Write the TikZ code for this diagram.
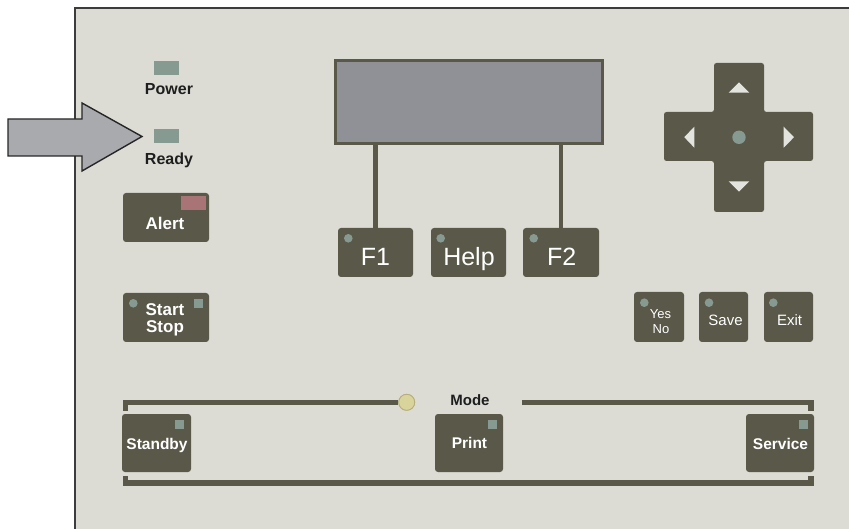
\documentclass[tikz,border=0pt]{standalone}
\usepackage{fontspec}
\setmainfont{Liberation Sans}
\definecolor{panelcol}{HTML}{DCDCD5}
\definecolor{bordercol}{HTML}{3C3C3C}
\definecolor{btncol}{HTML}{5A5848}
\definecolor{ledcol}{HTML}{879A92}
\definecolor{redled}{HTML}{A87476}
\definecolor{dispcol}{HTML}{909196}
\definecolor{arrowcol}{HTML}{A9AAAE}
\definecolor{knobfill}{HTML}{D9D49C}
\definecolor{knobdraw}{HTML}{B5AE7A}
\definecolor{txtdark}{HTML}{1E1E1E}
\definecolor{tricol}{HTML}{E4E4DE}
\begin{document}
\begin{tikzpicture}[x=1pt,y=-1pt,
  btn/.style={fill=btncol, rounded corners=3pt, inner sep=0pt, draw=none},
  ledsq/.style={fill=ledcol, inner sep=0pt, minimum width=9, minimum height=9},
  ledbar/.style={fill=ledcol, inner sep=0pt, minimum width=25, minimum height=13.5},
  ledrd/.style={fill=ledcol, circle, inner sep=0pt, minimum size=8.6},
  wbold/.style={text=white, inner sep=0pt, anchor=base, font=\fontsize{17}{18}\selectfont\bfseries},
  wsmall/.style={text=white, inner sep=0pt, anchor=base, font=\fontsize{15.5}{17}\selectfont\bfseries},
  wbig/.style={text=white, inner sep=0pt, anchor=base, font=\fontsize{25}{27}\selectfont},
  wreg/.style={text=white, inner sep=0pt, anchor=base, font=\fontsize{15}{16}\selectfont},
  dlabel/.style={text=txtdark, inner sep=0pt, anchor=base, font=\fontsize{16}{17}\selectfont\bfseries},
  wire/.style={draw=btncol, line width=4.5},
  rail/.style={draw=btncol, line width=5.5},
]
\useasboundingbox (0,0) rectangle (849,529);
% panel
\fill[panelcol] (74,7) rectangle (849,529);
\draw[bordercol, line width=1.6] (74.8,529) -- (74.8,7.8) -- (849,7.8);

% pointer arrow
\draw[fill=arrowcol, draw=black!85, line width=1.4, line join=miter]
  (8,119) -- (82,119) -- (82,103) -- (142,136.5) -- (82,171) -- (82,156) -- (8,156) -- cycle;

% status LEDs
\node[ledbar] (pled) at (166.5,68) {};
\node[dlabel] (ptxt) at (169,95) {Power};
\node[ledbar] (rled) at (166.5,136) {};
\node[dlabel] (rtxt) at (169,165) {Ready};

% Alert
\node[btn, minimum width=86, minimum height=49] (alert) at (166,217.5) {};
\node[fill=redled, inner sep=0pt, minimum width=25, minimum height=14] (aled) at (193.5,203) {};
\node[wbold] (atxt) at (165,229.3) {Alert};

% Start/Stop
\node[btn, minimum width=86, minimum height=49] (start) at (166,317.5) {};
\node[ledrd] (sled1) at (133.3,303.3) {};
\node[ledsq] (sled2) at (198.5,303.5) {};
\node[wbold] (stxt1) at (165,316) {Start};
\node[wbold] (stxt2) at (165,333) {Stop};

% display
\node[fill=dispcol, draw=btncol, line width=3, inner sep=0pt, minimum width=267, minimum height=83] (disp) at (468.5,102.5) {};

% F keys
\node[btn, minimum width=75, minimum height=49] (f1) at (375.5,252.5) {};
\node[btn, minimum width=75, minimum height=49] (help) at (468.5,252.5) {};
\node[btn, minimum width=76, minimum height=49] (f2) at (561,252.5) {};
\node[ledrd] (f1led) at (348.3,238.3) {};
\node[ledrd] (hled) at (440.7,238.3) {};
\node[ledrd] (f2led) at (533.7,238.3) {};
\node[wbig] (f1txt) at (375.5,266) {F1};
\node[wbig] (htxt) at (469,266) {Help};
\node[wbig] (f2txt) at (561.7,266) {F2};
\draw[wire] (disp.south -| f1.north) -- (f1.north);
\draw[wire] (disp.south -| f2.north) -- (f2.north);

% D-pad
\fill[btncol, rounded corners=2.5pt]
  (714,63) -- (764,63) -- (764,112) -- (813,112) -- (813,161) -- (764,161) -- (764,212)
  -- (714,212) -- (714,161) -- (664,161) -- (664,112) -- (714,112) -- cycle;
\fill[tricol] (739,82.3) -- (749.3,92.7) -- (728.7,92.7) -- cycle;
\fill[tricol] (739,191.7) -- (749.3,181.3) -- (728.7,181.3) -- cycle;
\fill[tricol] (684.3,137.2) -- (694.3,126.7) -- (694.3,147.7) -- cycle;
\fill[tricol] (794,137.2) -- (783.7,126.7) -- (783.7,147.7) -- cycle;
\node[ledrd, minimum size=13.4] (dcenter) at (739,137.3) {};

% Yes/No, Save, Exit
\node[btn, minimum width=50, minimum height=50] (yes) at (659,317) {};
\node[btn, minimum width=49, minimum height=50] (save) at (723.5,317) {};
\node[btn, minimum width=49, minimum height=50] (exit) at (788.5,317) {};
\node[ledrd] (yled) at (644.3,302.7) {};
\node[ledrd] (svled) at (709,302.7) {};
\node[ledrd] (exled) at (773.3,302.7) {};
\node[wreg, font=\fontsize{13}{14}\selectfont] (ytxt) at (660.5,318.3) {Yes};
\node[wreg, font=\fontsize{13}{14}\selectfont] (ntxt) at (661,333.3) {No};
\node[wreg] (svtxt) at (725.5,325.7) {Save};
\node[wreg] (extxt) at (789.5,325.7) {Exit};

% Mode section
\node[btn, minimum width=69, minimum height=58] (stby) at (156.5,443) {};
\node[btn, minimum width=68, minimum height=58] (print) at (469,443) {};
\node[btn, minimum width=68, minimum height=58] (serv) at (780,443) {};
\node[ledsq] (stled) at (179.5,424.5) {};
\node[ledsq] (prled) at (492.5,424.5) {};
\node[ledsq] (svcled) at (803.5,424.5) {};
\node[wsmall] (sttxt) at (157,449) {Standby};
\node[wsmall] (prtxt) at (469.5,448.5) {Print};
\node[wsmall] (svctxt) at (780.5,449) {Service};
\node[dlabel, font=\fontsize{15}{16}\selectfont\bfseries] (mode) at (470,406) {Mode};

\coordinate (tl) at (125.5,410.5);
\coordinate (tr0) at (522,402.5);
\coordinate (tr) at (811,410.5);
\coordinate (bl) at (125.5,476);
\coordinate (br) at (811,476);
\node[circle, fill=knobfill, draw=knobdraw, line width=0.8, inner sep=0pt, minimum size=16] (knob) at (406.7,402.3) {};
\draw[rail, line cap=butt] (tl) |- (knob.west);
\draw[rail, line cap=butt] (tr0) -| (tr);
\draw[rail, line cap=butt] (bl) |- (811,483) -- (br);
\node[circle, fill=knobfill, draw=knobdraw, line width=0.8, inner sep=0pt, minimum size=16] at (knob) {};
\end{tikzpicture}
\end{document}
